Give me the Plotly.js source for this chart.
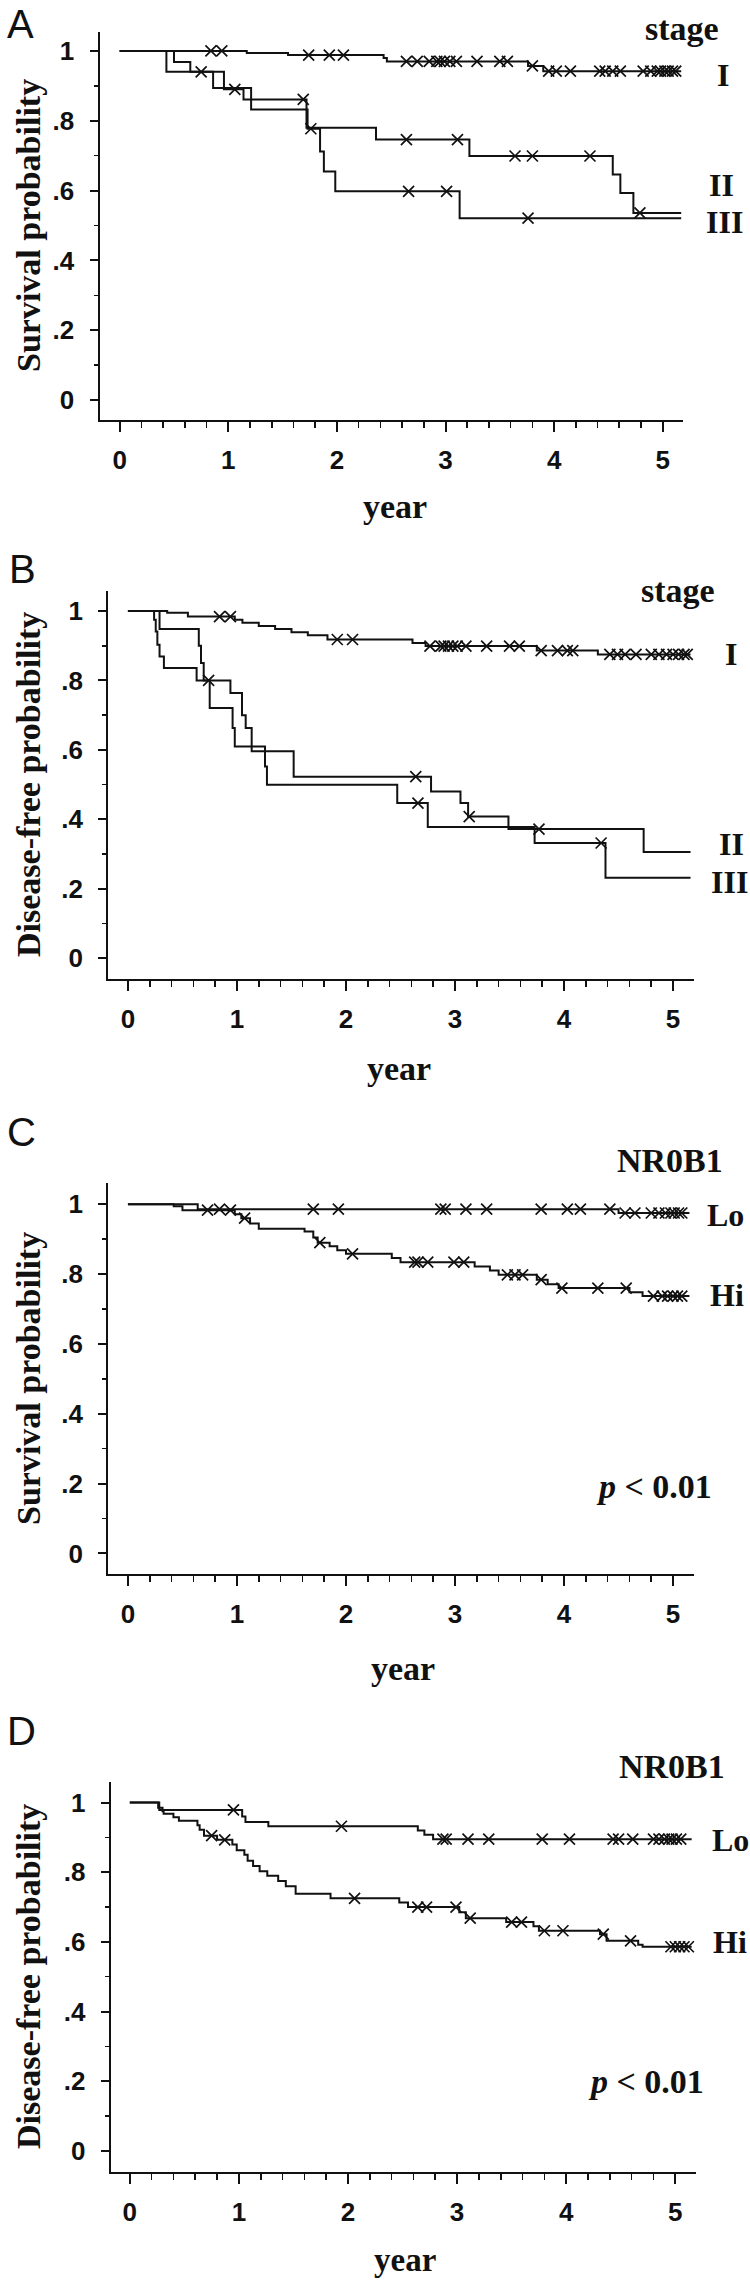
<!DOCTYPE html>
<html>
<head>
<meta charset="utf-8">
<script src="https://cdn.plot.ly/plotly-3.0.1.min.js"></script>
<style>html,body{margin:0;padding:0;background:#fff;}#chart{width:750px;height:2282px;}</style>
</head>
<body>
<div id="chart"></div>
<script>
// ---------------- data ----------------
const xTickVals = [0, 1, 2, 3, 4, 5];
const xTickText = ['0', '1', '2', '3', '4', '5'];
const yTickVals = [0, 0.2, 0.4, 0.6, 0.8, 1];
const yTickText = ['0', '.2', '.4', '.6', '.8', '1'];

// Panel A: overall survival by stage
const A_I_t = [1.17, 1.55, 2.43, 2.46, 3.76, 3.90];
const A_I_s = [0.994, 0.988, 0.980, 0.970, 0.957, 0.942];
const A_I_c = [0.84, 0.94, 1.74, 1.93, 2.06, 2.64, 2.74, 2.85, 2.92, 2.95, 2.99, 3.04, 3.10, 3.29, 3.50, 3.57, 3.80, 3.95, 4.02, 4.15, 4.42, 4.47, 4.54, 4.61, 4.82, 4.89, 4.95, 4.98, 5.02, 5.05, 5.09, 5.12];
const A_II_t = [0.50, 0.65, 0.96, 1.14, 1.72, 2.36, 3.22, 4.54, 4.61, 4.73];
const A_II_s = [0.968, 0.940, 0.890, 0.861, 0.780, 0.746, 0.699, 0.646, 0.593, 0.536];
const A_II_c = [0.75, 1.06, 1.69, 2.64, 3.11, 3.64, 3.80, 4.33, 4.79];
const A_III_t = [0.43, 0.86, 1.21, 1.73, 1.845, 1.88, 1.985, 3.13];
const A_III_s = [0.940, 0.894, 0.832, 0.777, 0.712, 0.655, 0.598, 0.521];
const A_III_c = [1.76, 2.66, 3.01, 3.76];
const A_end = 5.17;

// Panel B: disease-free survival by stage
const B_I_t = [0.36, 0.55, 0.98, 1.05, 1.20, 1.35, 1.50, 1.65, 1.83, 2.61, 2.73, 3.75, 4.31];
const B_I_s = [0.995, 0.984, 0.975, 0.966, 0.957, 0.948, 0.939, 0.930, 0.918, 0.908, 0.899, 0.886, 0.875];
const B_I_c = [0.84, 0.94, 1.92, 2.06, 2.77, 2.87, 2.90, 2.94, 2.98, 3.02, 3.10, 3.29, 3.50, 3.59, 3.79, 3.94, 4.03, 4.08, 4.42, 4.49, 4.56, 4.66, 4.80, 4.87, 4.94, 5.00, 5.05, 5.10, 5.13];
const B_II_t = [0.29, 0.65, 0.67, 0.695, 0.94, 1.046, 1.08, 1.135, 1.52, 2.78, 3.05, 3.12, 3.49, 4.73];
const B_II_s = [0.948, 0.900, 0.850, 0.800, 0.764, 0.700, 0.663, 0.596, 0.523, 0.480, 0.447, 0.408, 0.372, 0.306];
const B_II_c = [0.74, 2.64, 3.13, 3.77];
const B_III_t = [0.24, 0.255, 0.27, 0.29, 0.33, 0.63, 0.75, 0.96, 0.98, 1.257, 1.275, 2.47, 2.75, 3.73, 4.38];
const B_III_s = [0.975, 0.941, 0.903, 0.869, 0.836, 0.800, 0.721, 0.663, 0.610, 0.552, 0.500, 0.447, 0.378, 0.332, 0.232];
const B_III_c = [2.66, 4.34];
const B_end = 5.16;

// Panel C: overall survival by NR0B1 expression
const C_Lo_t = [0.64, 4.50];
const C_Lo_s = [0.986, 0.975];
const C_Lo_c = [0.84, 1.70, 1.93, 2.87, 2.91, 3.10, 3.29, 3.79, 4.03, 4.15, 4.42, 4.56, 4.65, 4.80, 4.87, 4.93, 4.98, 5.01, 5.05, 5.08];
const C_Hi_t = [0.42, 0.50, 0.98, 1.04, 1.12, 1.20, 1.62, 1.70, 1.74, 1.85, 1.92, 2.00, 2.42, 2.50, 3.18, 3.32, 3.40, 3.75, 3.85, 3.95, 4.60, 4.72];
const C_Hi_s = [0.994, 0.983, 0.971, 0.960, 0.945, 0.930, 0.922, 0.905, 0.890, 0.880, 0.868, 0.858, 0.846, 0.834, 0.822, 0.810, 0.798, 0.784, 0.771, 0.760, 0.748, 0.737];
const C_Hi_c = [0.73, 0.94, 1.07, 1.76, 2.06, 2.63, 2.66, 2.75, 2.99, 3.08, 3.48, 3.55, 3.62, 3.79, 3.98, 4.31, 4.57, 4.82, 4.90, 4.95, 5.00, 5.04, 5.08];
const C_end = 5.15;

// Panel D: disease-free survival by NR0B1 expression
const D_Lo_t = [0.27, 1.03, 1.06, 1.27, 2.64, 2.70, 2.78];
const D_Lo_s = [0.979, 0.960, 0.944, 0.932, 0.920, 0.908, 0.895];
const D_Lo_c = [0.95, 1.94, 2.87, 2.90, 3.10, 3.29, 3.78, 4.03, 4.43, 4.48, 4.61, 4.80, 4.85, 4.90, 4.94, 4.97, 5.01, 5.05];
const D_Hi_t = [0.26, 0.30, 0.31, 0.40, 0.45, 0.62, 0.64, 0.68, 0.80, 0.94, 0.98, 1.05, 1.08, 1.13, 1.19, 1.26, 1.36, 1.43, 1.52, 1.84, 2.47, 2.55, 3.02, 3.08, 3.45, 3.70, 3.75, 4.31, 4.37, 4.66, 4.70];
const D_Hi_s = [0.985, 0.975, 0.968, 0.958, 0.948, 0.935, 0.922, 0.905, 0.893, 0.880, 0.863, 0.850, 0.833, 0.818, 0.803, 0.790, 0.775, 0.760, 0.738, 0.725, 0.713, 0.700, 0.685, 0.668, 0.657, 0.645, 0.632, 0.622, 0.603, 0.592, 0.586];
const D_Hi_c = [0.75, 0.87, 2.06, 2.64, 2.72, 2.99, 3.12, 3.50, 3.59, 3.80, 3.97, 4.34, 4.59, 4.96, 5.00, 5.04, 5.08, 5.12];
const D_end = 5.15;

// ---------------- layout constants ----------------
const W = 750, H = 2282;
const SERIF = 'Liberation Serif, Times New Roman, serif';
const SANS = 'Liberation Sans Narrow, Arial Narrow, Liberation Sans, Arial, sans-serif';
const INK = '#111';

// plot boxes in pixels: [left, right, top, bottom], and axis ranges
const panels = [
  {box: [99.5, 682.7, 31.7, 420], xr: [-0.186, 5.184], yr: [-0.057, 1.055]},
  {box: [108.2, 693.8, 590.7, 979], xr: [-0.181, 5.19], yr: [-0.0597, 1.0585]},
  {box: [108.2, 693.8, 1183.3, 1574], xr: [-0.181, 5.19], yr: [-0.059, 1.060]},
  {box: [110.6, 695.7, 1781.7, 2171.7], xr: [-0.176, 5.187], yr: [-0.060, 1.060]}
];

function survAt(t, ts, ss) {
  let v = 1;
  for (let i = 0; i < ts.length; i++) if (ts[i] <= t) v = ss[i];
  return v;
}

const traces = [];
function addCurve(k, ts, ss, cens, end) {
  const xa = k === 0 ? 'x' : 'x' + (k + 1);
  const ya = k === 0 ? 'y' : 'y' + (k + 1);
  const xs = [0].concat(ts, [end]);
  const ys = [1].concat(ss, [ss[ss.length - 1]]);
  traces.push({x: xs, y: ys, xaxis: xa, yaxis: ya, mode: 'lines',
    line: {shape: 'hv', color: INK, width: 2}, hoverinfo: 'skip'});
  traces.push({x: cens, y: cens.map(c => survAt(c, ts, ss)), xaxis: xa, yaxis: ya, mode: 'markers',
    marker: {symbol: 'x-thin', size: 11, color: INK, line: {color: INK, width: 1.7}}, hoverinfo: 'skip'});
}
addCurve(0, A_I_t, A_I_s, A_I_c, A_end);
addCurve(0, A_II_t, A_II_s, A_II_c, A_end);
addCurve(0, A_III_t, A_III_s, A_III_c, A_end);
addCurve(1, B_I_t, B_I_s, B_I_c, B_end);
addCurve(1, B_II_t, B_II_s, B_II_c, B_end);
addCurve(1, B_III_t, B_III_s, B_III_c, B_end);
addCurve(2, C_Lo_t, C_Lo_s, C_Lo_c, C_end);
addCurve(2, C_Hi_t, C_Hi_s, C_Hi_c, C_end);
addCurve(3, D_Lo_t, D_Lo_s, D_Lo_c, D_end);
addCurve(3, D_Hi_t, D_Hi_s, D_Hi_c, D_end);

const tickFont = {family: SANS, size: 26, color: INK, weight: 'bold'};
const layout = {
  width: W, height: H, margin: {l: 0, r: 0, t: 0, b: 0},
  paper_bgcolor: '#fff', plot_bgcolor: '#fff', showlegend: false,
  annotations: []
};

panels.forEach((p, k) => {
  const sx = k === 0 ? '' : String(k + 1);
  const [l, r, t, b] = p.box;
  layout['xaxis' + sx] = {
    domain: [l / W, r / W], range: p.xr, anchor: 'y' + sx,
    showline: true, linecolor: INK, linewidth: 2, showgrid: false, zeroline: false,
    ticks: 'outside', ticklen: 10, tickwidth: 2, tickcolor: INK,
    tickmode: 'array', tickvals: xTickVals, ticktext: xTickText,
    tickfont: tickFont, ticklabelstandoff: 6,
    minor: {tickmode: 'linear', tick0: 0, dtick: 0.2, ticks: 'outside', ticklen: 6, tickwidth: 1.6, tickcolor: INK, showgrid: false}
  };
  layout['yaxis' + sx] = {
    domain: [1 - b / H, 1 - t / H], range: p.yr, anchor: 'x' + sx,
    showline: true, linecolor: INK, linewidth: 2, showgrid: false, zeroline: false,
    ticks: 'outside', ticklen: 8, tickwidth: 2, tickcolor: INK,
    tickmode: 'array', tickvals: yTickVals, ticktext: yTickText,
    tickfont: tickFont, ticklabelstandoff: 10,
    minor: {tickmode: 'linear', tick0: 0, dtick: 0.1, ticks: 'outside', ticklen: 4, tickwidth: 1.6, tickcolor: INK, showgrid: false}
  };
});

function note(text, px, py, opts) {
  layout.annotations.push(Object.assign({
    text: text, x: px / W, y: 1 - py / H, xref: 'paper', yref: 'paper',
    showarrow: false, xanchor: 'center', yanchor: 'middle', borderpad: 0,
    font: {family: SERIF, size: 34, color: INK, weight: 'bold'}
  }, opts || {}));
}
const letterFont = {family: SANS, size: 40, color: INK, weight: 'normal'};
const yTitleOpts = {textangle: -90, font: {family: SERIF, size: 34, color: INK, weight: 'bold'}};
const grpFont = {font: {family: SERIF, size: 32, color: INK, weight: 'bold'}};

// Panel A
note('A', 6, 1, {font: letterFont, xanchor: 'left', yanchor: 'top'});
note('stage', 682, 28);
note('I', 723, 75, grpFont);
note('II', 721, 185, grpFont);
note('III', 724, 222, grpFont);
note('Survival probability', 28, 226, yTitleOpts);
note('year', 395, 506);
// Panel B
note('B', 8, 546, {font: letterFont, xanchor: 'left', yanchor: 'top'});
note('stage', 678, 590);
note('I', 731, 654, grpFont);
note('II', 731, 844, grpFont);
note('III', 729, 882, grpFont);
note('Disease-free probability', 28, 785, yTitleOpts);
note('year', 399, 1068);
// Panel C
note('C', 6, 1109, {font: letterFont, xanchor: 'left', yanchor: 'top'});
note('NR0B1', 670, 1160);
note('Lo', 725, 1215, grpFont);
note('Hi', 727, 1295, grpFont);
note('<i>p</i> &lt; 0.01', 654, 1486);
note('Survival probability', 28, 1379, yTitleOpts);
note('year', 403, 1668);
// Panel D
note('D', 6, 1708, {font: letterFont, xanchor: 'left', yanchor: 'top'});
note('NR0B1', 672, 1766);
note('Lo', 730, 1840, grpFont);
note('Hi', 730, 1942, grpFont);
note('<i>p</i> &lt; 0.01', 646, 2081);
note('Disease-free probability', 28, 1977, yTitleOpts);
note('year', 405, 2260, {font: {family: SERIF, size: 33, color: INK, weight: 'bold'}});

Plotly.newPlot('chart', traces, layout, {staticPlot: true, displayModeBar: false});
</script>
</body>
</html>
